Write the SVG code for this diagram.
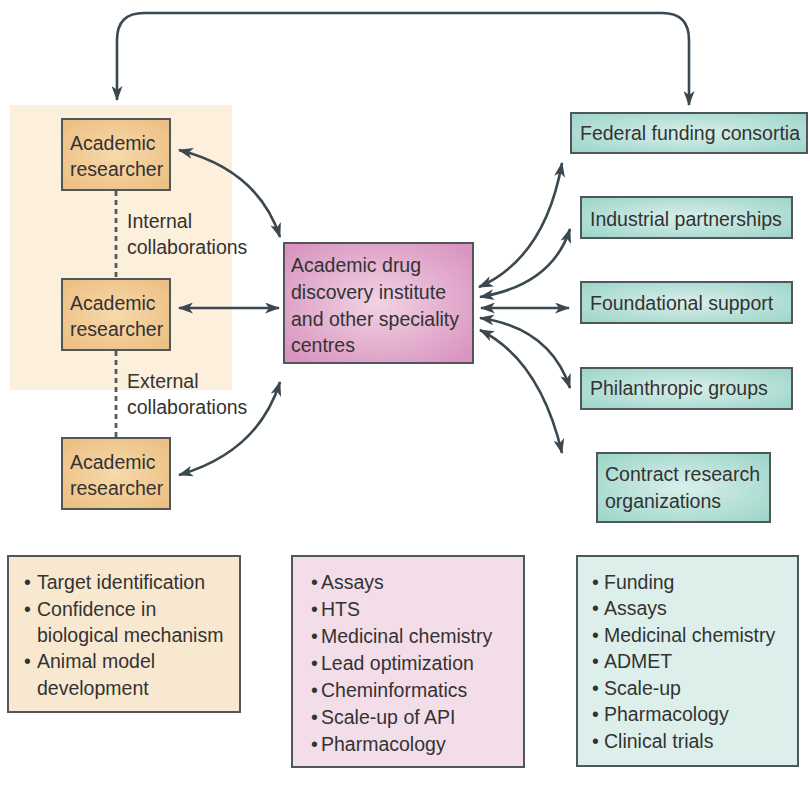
<svg xmlns="http://www.w3.org/2000/svg" width="810" height="789" viewBox="0 0 810 789">
  <defs>
    <radialGradient id="gAcad" cx="50%" cy="50%" r="65%">
      <stop offset="0" stop-color="#f7d9aa"/>
      <stop offset="1" stop-color="#ecbf82"/>
    </radialGradient>
    <radialGradient id="gPink" cx="50%" cy="50%" r="65%">
      <stop offset="0" stop-color="#f1d3e4"/>
      <stop offset="1" stop-color="#d994bf"/>
    </radialGradient>
    <radialGradient id="gTeal" cx="50%" cy="50%" r="65%">
      <stop offset="0" stop-color="#d9efea"/>
      <stop offset="1" stop-color="#9fd6cb"/>
    </radialGradient>
    <marker id="head" viewBox="0 0 15 11" refX="14" refY="5.5" markerWidth="15" markerHeight="11" markerUnits="userSpaceOnUse" orient="auto-start-reverse">
      <path d="M0,0 L15,5.5 L0,11 L4,5.5 z" fill="#3b4850"/>
    </marker>
    <style>
      text { font-family: "Liberation Sans", Arial, sans-serif; font-size: 19.5px; fill: #333333; }
      .box { stroke: #50575a; stroke-width: 2; }
      .acad { fill: url(#gAcad); }
      .pink { fill: url(#gPink); }
      .teal { fill: url(#gTeal); }
      .link { fill: none; stroke: #3b4850; stroke-width: 2.6; marker-start: url(#head); marker-end: url(#head); }
      .dash { fill: none; stroke: #555b5e; stroke-width: 2.8; stroke-dasharray: 5 4; }
    </style>
  </defs>

  <rect width="810" height="789" fill="#ffffff"/>

  <!-- institution shading behind the internal researchers -->
  <rect id="institution" x="10" y="105" width="222" height="285" fill="#fcefdc"/>

  <!-- collaboration links between researchers -->
  <g id="collaborations">
    <line class="dash" x1="116" y1="191" x2="116" y2="279"/>
    <line class="dash" x1="116" y1="351" x2="116" y2="438"/>
    <text x="127" y="228">Internal</text>
    <text x="127" y="254">collaborations</text>
    <text x="127" y="388">External</text>
    <text x="127" y="414">collaborations</text>
  </g>

  <!-- connectors -->
  <g id="connectors">
    <path class="link" d="M117,100 V40 Q117,13 144,13 H662 Q689,13 689,40 V105"/>
    <path class="link" d="M179,150 Q258,170 280,237"/>
    <line class="link" x1="179" y1="308" x2="279" y2="308"/>
    <path class="link" d="M179,475 Q258,452 280,382"/>
    <path class="link" d="M479,287 Q545,258 562,163"/>
    <path class="link" d="M480,297 Q552,285 570,229"/>
    <line class="link" x1="481" y1="308" x2="569" y2="308"/>
    <path class="link" d="M480,318 Q550,328 570,388"/>
    <path class="link" d="M480,330 Q540,360 562,453"/>
  </g>

  <!-- academic researchers -->
  <g id="researcher1">
    <rect class="box acad" x="62" y="119" width="108" height="71"/>
    <text x="70" y="150">Academic</text>
    <text x="70" y="176">researcher</text>
  </g>
  <g id="researcher2">
    <rect class="box acad" x="62" y="279" width="108" height="71"/>
    <text x="70" y="310">Academic</text>
    <text x="70" y="336">researcher</text>
  </g>
  <g id="researcher3">
    <rect class="box acad" x="62" y="438" width="108" height="71"/>
    <text x="70" y="469">Academic</text>
    <text x="70" y="495">researcher</text>
  </g>

  <!-- central institute -->
  <g id="institute">
    <rect class="box pink" x="284" y="243" width="189" height="120"/>
    <text x="291" y="272">Academic drug</text>
    <text x="291" y="299">discovery institute</text>
    <text x="291" y="326">and other speciality</text>
    <text x="291" y="352">centres</text>
  </g>

  <!-- external partners -->
  <g id="federal">
    <rect class="box teal" x="571" y="113" width="236" height="40"/>
    <text x="580" y="140">Federal funding consortia</text>
  </g>
  <g id="industrial">
    <rect class="box teal" x="581" y="197" width="211" height="41"/>
    <text x="590" y="226">Industrial partnerships</text>
  </g>
  <g id="foundational">
    <rect class="box teal" x="581" y="282" width="211" height="41"/>
    <text x="590" y="310">Foundational support</text>
  </g>
  <g id="philanthropic">
    <rect class="box teal" x="581" y="368" width="211" height="41"/>
    <text x="590" y="395">Philanthropic groups</text>
  </g>
  <g id="contract">
    <rect class="box teal" x="597" y="453" width="173" height="69"/>
    <text x="605" y="481">Contract research</text>
    <text x="605" y="508">organizations</text>
  </g>

  <!-- capability lists -->
  <g id="list-academic">
    <rect class="box" x="8" y="556" width="232" height="156" fill="#f8e8d0"/>
    <text x="24" y="589"><tspan>•</tspan><tspan x="37">Target identification</tspan></text>
    <text x="24" y="616"><tspan>•</tspan><tspan x="37">Confidence in</tspan></text>
    <text x="37" y="642">biological mechanism</text>
    <text x="24" y="668"><tspan>•</tspan><tspan x="37">Animal model</tspan></text>
    <text x="37" y="695">development</text>
  </g>
  <g id="list-institute">
    <rect class="box" x="292" y="556" width="232" height="211" fill="#f3dde9"/>
    <text x="311" y="589"><tspan>•</tspan><tspan x="321">Assays</tspan></text>
    <text x="311" y="616"><tspan>•</tspan><tspan x="321">HTS</tspan></text>
    <text x="311" y="643"><tspan>•</tspan><tspan x="321">Medicinal chemistry</tspan></text>
    <text x="311" y="670"><tspan>•</tspan><tspan x="321">Lead optimization</tspan></text>
    <text x="311" y="697"><tspan>•</tspan><tspan x="321">Cheminformatics</tspan></text>
    <text x="311" y="724"><tspan>•</tspan><tspan x="321">Scale-up of API</tspan></text>
    <text x="311" y="751"><tspan>•</tspan><tspan x="321">Pharmacology</tspan></text>
  </g>
  <g id="list-partners">
    <rect class="box" x="577" y="556" width="221" height="210" fill="#ddefeb"/>
    <text x="592" y="589"><tspan>•</tspan><tspan x="604">Funding</tspan></text>
    <text x="592" y="615"><tspan>•</tspan><tspan x="604">Assays</tspan></text>
    <text x="592" y="642"><tspan>•</tspan><tspan x="604">Medicinal chemistry</tspan></text>
    <text x="592" y="668"><tspan>•</tspan><tspan x="604">ADMET</tspan></text>
    <text x="592" y="695"><tspan>•</tspan><tspan x="604">Scale-up</tspan></text>
    <text x="592" y="721"><tspan>•</tspan><tspan x="604">Pharmacology</tspan></text>
    <text x="592" y="748"><tspan>•</tspan><tspan x="604">Clinical trials</tspan></text>
  </g>
</svg>
